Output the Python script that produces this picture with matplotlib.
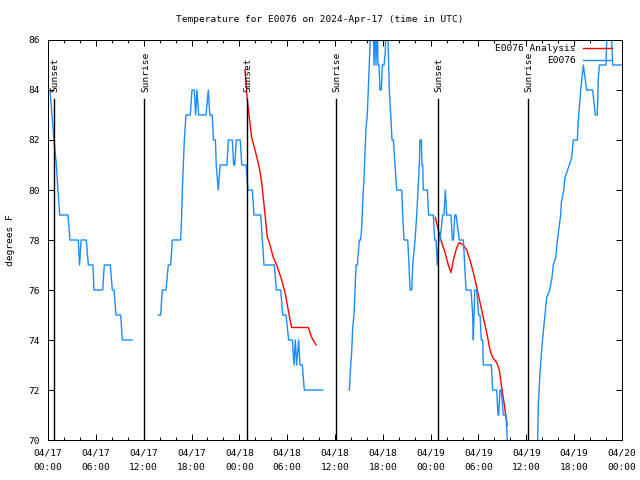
import numpy as np
import matplotlib
matplotlib.use("Agg")
import matplotlib.pyplot as plt

nan = np.nan

# hours since 2024-04-17 00:00 UTC, nan = gap in the record
obs_hours = [
    0.0, 0.25, 0.5, 0.75, 1.05, 1.25, 1.47, 2.5, 2.76, 3.8, 3.95, 4.15, 4.8, 5.06,
    5.64, 5.77, 6.86, 7.06, 7.81, 8.07, 8.28, 8.53, 9.12, 9.32, 10.54,
    nan,
    13.84, 14.13, 14.34, 14.8, 15.09, 15.39, 15.6, 16.64, 16.77, 16.85, 16.97, 17.1,
    17.31, 17.85, 18.06, 18.35, 18.52, 18.69, 18.9, 19.82, 20.11, 20.3, 20.6, 20.75,
    21.0, 21.1, 21.36, 21.58, 22.45, 22.62, 23.12, 23.29, 23.42, 23.62, 24.12, 24.3,
    24.84, 25.09, 25.63, 25.84, 26.68, 26.88, 27.09, 28.39, 28.64, 29.19, 29.44,
    29.85, 30.19, 30.65, 30.86, 31.02, 31.19, 31.44, 31.61, 31.9, 32.15, 34.46,
    nan,
    37.8, 37.97, 38.09, 38.22, 38.38, 38.51, 38.64, 38.8, 39.05, 39.22, 39.35,
    39.47, 39.64, 39.76, 39.89, 40.05, 40.18, 40.3, 40.52, 40.81, 40.89, 41.06,
    41.14, 41.31, 41.39, 41.52, 41.65, 41.81, 41.94, 42.15, 42.31, 42.4, 42.56,
    42.65, 42.81, 42.99, 43.15, 43.32, 43.53, 43.74, 43.94, 44.37, 44.49, 44.66,
    45.12, 45.28, 45.41, 45.62, 45.75, 46.04, 46.25, 46.41, 46.58, 46.66, 46.83,
    46.91, 47.0, 47.08, 47.58, 47.75, 48.13, 48.33, 48.5, 48.67, 48.83, 49.01,
    49.17, 49.51, 49.67, 49.84, 50.01, 50.55, 50.72, 50.85, 51.02, 51.18, 51.6,
    52.1, 52.27, 52.43, 52.6, 53.06, 53.27, 53.35, 53.52, 53.77, 54.02, 54.19,
    54.35, 54.53, 54.6, 55.61, 55.78, 55.86, 56.28, 56.45, 56.53, 56.7, 56.86,
    57.11, 57.28, 57.45, 57.61, 57.75,
    nan,
    61.38, 61.5, 61.72, 61.84, 62.0, 62.18, 62.43, 62.55, 62.93, 63.22, 63.38,
    63.69, 63.89, 64.31, 64.39, 64.69, 64.85, 65.39, 65.69, 65.9, 66.4, 66.52,
    66.82, 67.15, 67.36, 67.57, 68.32, 68.49, 68.65, 68.9, 69.03, 69.16, 70.0,
    70.16, 70.58, 70.83, 72.0,
]
obs_temp = [
    84, 84, 83, 82, 81, 80, 79, 79, 78, 78, 77, 78, 78, 77,
    77, 76, 76, 77, 77, 76, 76, 75, 75, 74, 74,
    nan,
    75, 75, 76, 76, 77, 77, 78, 78, 79, 80, 81, 82,
    83, 83, 84, 84, 83, 84, 83, 83, 84, 83, 83, 82,
    82, 81, 80, 81, 81, 82, 82, 81, 81, 82, 82, 81,
    81, 80, 80, 79, 79, 78, 77, 77, 76, 76, 75,
    75, 74, 74, 73, 74, 73, 74, 73, 73, 72, 72,
    nan,
    72, 73, 73.5, 74.5, 75, 76, 77, 77, 78, 78, 78.5,
    79.5, 80.5, 81.5, 82.5, 83, 84, 85, 87, 87, 85, 87,
    85, 87, 85, 85, 84, 84, 85, 85, 85.5, 87, 87,
    86, 84, 83, 82, 82, 81, 80, 80, 80, 79, 78,
    78, 77, 76, 76, 77, 78, 79, 80, 81, 82, 82,
    81, 81, 80, 80, 79, 79, 79, 78, 78, 77, 78,
    78, 79, 79, 80, 79, 79, 78, 78, 79, 79, 78,
    78, 77, 76, 76, 76, 75, 74, 76, 76, 75, 75,
    74, 74, 73, 73, 72, 72, 72, 71, 71, 72, 72,
    71, 71, 71, 70, 69,
    nan,
    69, 71.4, 72.7, 73.2, 73.9, 74.5, 75.3, 75.7, 76, 76.5, 77,
    77.3, 78, 79, 79.5, 80, 80.5, 81, 81.3, 82, 82, 82.8,
    84, 85, 84.5, 84, 84, 83.5, 83, 83, 84.5, 85, 85,
    87, 87, 85, 85,
]

# analysis curve (two runs)
ana_hours = [
    24.71, 25.0, 25.25, 25.55, 25.97, 26.5, 26.8, 27.0, 27.26, 27.51, 27.76,
    28.26, 28.69, 29.31, 29.73, 30.14, 30.36, 30.57, 31.2, 32.02, 32.65, 33.08,
    33.62,
    nan,
    48.58, 48.96, 49.38, 49.8, 50.21, 50.55, 50.84, 51.27, 51.59, 52.09, 52.52,
    52.93, 53.35, 53.78, 54.19, 54.6, 55.03, 55.44, 55.78, 56.28, 56.61, 56.91,
    57.2, 57.45, 57.61,
]
ana_temp = [
    84.8, 83.6, 82.9, 82.1, 81.6, 80.9, 80.3, 79.7, 78.9, 78.1, 77.9,
    77.3, 77.0, 76.4, 75.9, 75.2, 74.8, 74.5, 74.5, 74.5, 74.5, 74.1,
    73.8,
    nan,
    78.9, 78.4, 77.9, 77.5, 77.0, 76.7, 77.2, 77.7, 77.9, 77.8, 77.6,
    77.2, 76.7, 76.1, 75.5, 74.9, 74.3, 73.6, 73.3, 73.1, 72.8, 72.1,
    71.5, 70.9, 70.6,
]

sun_hours = [0.79, 12.1, 24.92, 36.13, 48.96, 60.2]
sun_names = ["Sunset", "Sunrise", "Sunset", "Sunrise", "Sunset", "Sunrise"]

tick_hours = list(range(0, 73, 6))
tick_labels = ["04/17\n00:00", "04/17\n06:00", "04/17\n12:00", "04/17\n18:00",
               "04/18\n00:00", "04/18\n06:00", "04/18\n12:00", "04/18\n18:00",
               "04/19\n00:00", "04/19\n06:00", "04/19\n12:00", "04/19\n18:00",
               "04/20\n00:00"]

plt.rcParams['font.family'] = ['DejaVu Sans Mono', 'DejaVu Sans']
fs = 6.8
px = 0.72  # one pixel in points at 100 dpi

fig = plt.figure(figsize=(6.4, 4.8), dpi=100)
ax = fig.add_axes([48 / 640, 40 / 480, 574 / 640, 400 / 480])

ax.plot(ana_hours, ana_temp, color='#ff0000', lw=1.0, label='E0076 Analysis')
ax.plot(obs_hours, obs_temp, color='#1a8cff', lw=1.0, label='E0076')

# sunrise / sunset markers
for h, name in zip(sun_hours, sun_names):
    ax.plot([h, h], [70, 83.64], color='black', lw=1.0)
    ax.text(h + 0.12, 83.9, name, rotation=90, ha='center', va='bottom', fontsize=fs)

ax.set_xlim(0, 72)
ax.set_ylim(70, 86)
ax.set_xticks(tick_hours)
ax.set_xticklabels(tick_labels, fontsize=fs, linespacing=1.8)
ax.set_xticks(range(0, 73, 2), minor=True)
ax.set_yticks(range(70, 87, 2))
ax.set_yticklabels([str(v) for v in range(70, 87, 2)], fontsize=fs)
ax.tick_params(which='both', direction='in', top=True, right=True, width=px)
ax.tick_params(which='major', length=4.5, pad=6)
ax.tick_params(which='minor', length=2.5)
for sp in ax.spines.values():
    sp.set_linewidth(px)

ax.legend(loc='upper right', bbox_to_anchor=(0.982, 0.99), frameon=False,
          markerfirst=False, fontsize=fs, borderpad=0, borderaxespad=0,
          handlelength=3.0, handletextpad=0.8, labelspacing=0.35)

fig.text(0.5, 1 - 19 / 480, 'Temperature for E0076 on 2024-Apr-17 (time in UTC)',
         ha='center', va='center', fontsize=fs)
fig.text(11 / 640, 0.5, 'degrees F', rotation=90, ha='center', va='center', fontsize=fs)

fig.savefig('out.png', dpi=100)
